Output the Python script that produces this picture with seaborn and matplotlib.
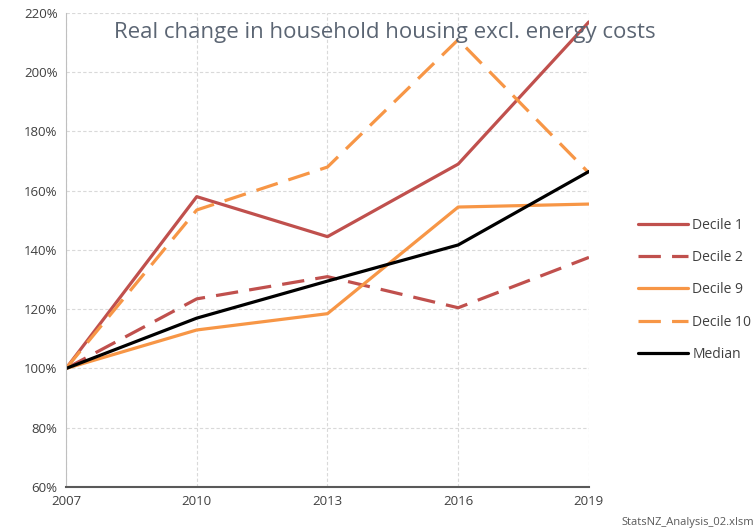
import matplotlib as mpl

mpl.use('Agg')
import pandas as pd
import matplotlib.pyplot as plt
from matplotlib.ticker import PercentFormatter
import seaborn as sns

sns.set_style("white")
plt.rcParams['font.family'] = ['Open Sans', 'DejaVu Sans']

years = [2007, 2010, 2013, 2016, 2019]
decile_1 = [1.00, 1.58, 1.445, 1.69, 2.17]
decile_2 = [1.00, 1.235, 1.31, 1.205, 1.375]
decile_9 = [1.00, 1.13, 1.185, 1.545, 1.555]
decile_10 = [1.00, 1.535, 1.68, 2.11, 1.66]
median = [1.00, 1.17, 1.295, 1.417, 1.665]

series = {'Decile 1': decile_1, 'Decile 2': decile_2, 'Decile 9': decile_9,
          'Decile 10': decile_10, 'Median': median}
colours = {'Decile 1': '#c0504d', 'Decile 2': '#c0504d', 'Decile 9': '#f79646',
           'Decile 10': '#f79646', 'Median': 'black'}
dashed = {'Decile 2', 'Decile 10'}

fig = plt.figure(figsize=(7.56, 5.32), dpi=100)
ax = fig.add_axes([0.0873, 0.0846, 0.779 - 0.0873, 0.9756 - 0.0846])

for name, vals in series.items():
    df = pd.DataFrame({'year': years, 'value': vals})
    ls = (0, (7, 3.5)) if name in dashed else '-'
    sns.lineplot(data=df, x='year', y='value', ax=ax, color=colours[name], lw=2.3,
                 linestyle=ls, label=name)

ax.set_xlim(2007, 2019)
ax.set_ylim(0.6, 2.2)
ax.set_xticks(years)
ax.set_yticks([0.6 + 0.2 * i for i in range(9)])
ax.yaxis.set_major_formatter(PercentFormatter(1.0, decimals=0))
ax.set_xlabel('')
ax.set_ylabel('')
ax.grid(True, color='#d9d9d9', linestyle=(0, (3, 2)), lw=0.8)
for s in ['top', 'right']:
    ax.spines[s].set_visible(False)
ax.spines['left'].set_color('#bfbfbf')
ax.spines['bottom'].set_color('#595959')
ax.spines['bottom'].set_linewidth(1.5)
ax.tick_params(axis='both', length=0, labelsize=9.5, colors='#404040', pad=6)

fig.text(0.509, 0.938, 'Real change in household housing excl. energy costs',
         ha='center', va='center', fontsize=16, color='#5b6573')

leg = ax.legend(loc='center left', bbox_to_anchor=(1.07, 0.416), frameon=False, fontsize=10,
                handlelength=3.6, labelspacing=1.25, handletextpad=0.3)
for t in leg.get_texts():
    t.set_color('#404040')

fig.text(0.997, 0.008, 'StatsNZ_Analysis_02.xlsm', ha='right', va='bottom', fontsize=8, color='#595959')

fig.savefig('out.png', dpi=100)
